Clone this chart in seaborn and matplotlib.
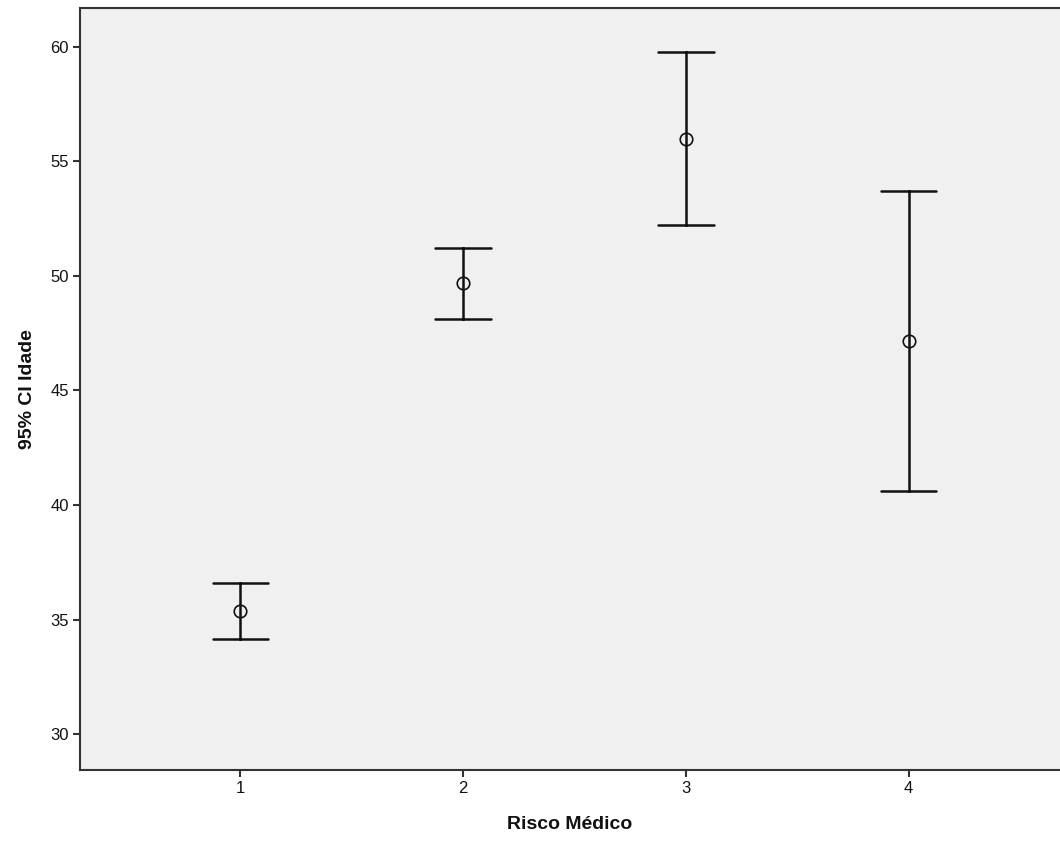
import matplotlib
matplotlib.use("Agg")
import matplotlib.pyplot as plt
import seaborn as sns
import pandas as pd
import numpy as np

categories = ["1", "2", "3", "4"]
means = [35.39, 49.69, 56.00, 47.14]
lower = [34.17, 48.12, 52.21, 40.61]
upper = [36.61, 51.22, 59.78, 53.69]
y_ticks = [30, 35, 40, 45, 50, 55, 60]

rows = []
for c, lo, m, hi in zip(categories, lower, means, upper):
    for v in (lo, m, hi):
        rows.append({"Risco Médico": c, "Idade": v})
df = pd.DataFrame(rows)

sns.set_style("white")
plt.rcParams["font.family"] = ["Liberation Sans", "DejaVu Sans"]

fig = plt.figure(figsize=(10.6, 8.5), dpi=100)
ax = fig.add_axes([80/1060, 80/850, 1 - 80/1060, (770-8)/850])
ax.set_facecolor("#f0f0f0")

sns.pointplot(data=df, x="Risco Médico", y="Idade", order=categories,
              estimator=np.median, errorbar=lambda x: (np.min(x), np.max(x)),
              linestyle="none", marker="o", markersize=9,
              markerfacecolor="none", markeredgecolor="#111111", markeredgewidth=1.2,
              color="#111111", capsize=0.25, err_kws={"linewidth": 1.8}, ax=ax)

ax.set_xlim(-0.72, 3.68)
ax.set_ylim(28.43, 61.7)
ax.set_yticks(y_ticks)
ax.set_yticklabels([str(t) for t in y_ticks])
ax.tick_params(axis="both", direction="out", length=5, width=1.5, colors="#333333",
               labelsize=12, labelcolor="#111111", left=True, bottom=True, pad=3)
ax.set_xlabel("Risco Médico", fontsize=14, fontweight="bold", labelpad=14, color="#111111")
ax.set_ylabel("95% CI Idade", fontsize=14, fontweight="bold", labelpad=10, color="#111111")
for s in ["left", "bottom", "top"]:
    ax.spines[s].set_color("#333333")
    ax.spines[s].set_linewidth(1.5)
ax.spines["right"].set_visible(False)

fig.savefig("out.png", dpi=100)
